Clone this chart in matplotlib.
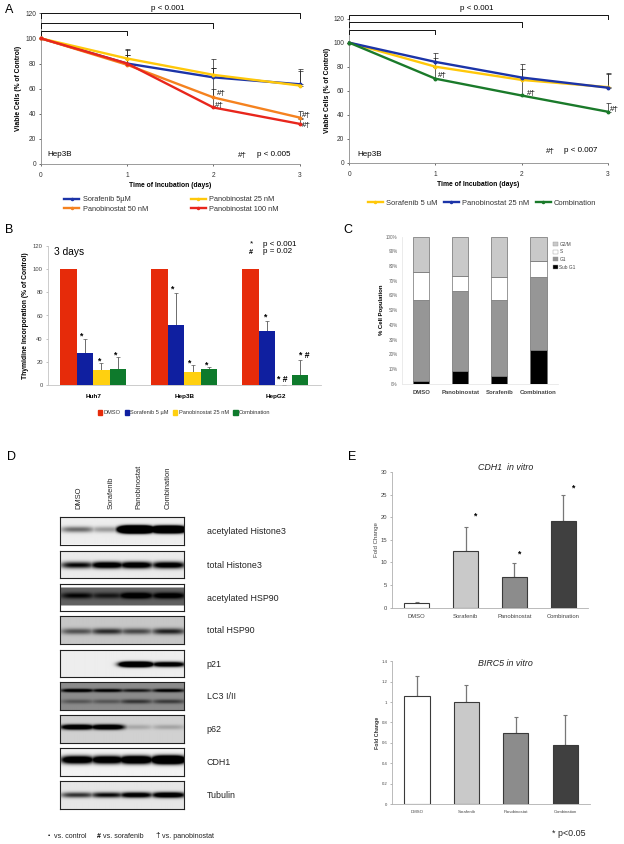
# %%
import matplotlib as mpl
import matplotlib.pyplot as plt
from matplotlib.lines import Line2D
from matplotlib.patches import Patch
import numpy as np

W, H = 624, 844
mpl.rcParams.update({
    'font.family': ['Liberation Sans', 'DejaVu Sans'],
    'axes.linewidth': 0.6,
    'xtick.major.width': 0.5,
    'ytick.major.width': 0.5,
    'xtick.major.size': 1.5,
    'ytick.major.size': 1.5,
    'xtick.major.pad': 2,
    'ytick.major.pad': 2,
})

# %%
# Data

days = [0, 1, 2, 3]

a1_labels = ['Sorafenib 5µM', 'Panobinostat 50 nM', 'Panobinostat 25 nM', 'Panobinostat 100 nM']
a1_sor = [100, 80, 69, 63.5]
a1_p50 = [100, 79, 53, 37]
a1_p25 = [100, 84, 71, 62.5]
a1_p100 = [100, 80, 45, 32]
a1_sor_top = [100, 91.5, 83.5, 75.5]
a1_p50_top = [100, 87, 76.5, 42]
a1_p25_top = [100, 91, 76.5, 74]
a1_p100_top = [100, 87, 60, 36]

a2_labels = ['Sorafenib 5 uM', 'Panobinostat 25 nM', 'Combination']
a2_sor = [100, 80, 69, 63]
a2_pan = [100, 84, 71, 62.5]
a2_com = [100, 70, 56, 42.5]
a2_sor_top = [100, 87, 78, 74]
a2_pan_top = [100, 91.5, 82, 74.5]
a2_com_top = [100, 80, 70, 50]

b_cells = ['Huh7', 'Hep3B', 'HepG2']
b_labels = ['DMSO', 'Sorafenib 5 µM', 'Panobinostat 25 nM', 'Combination']
b_dmso = [100, 100, 100]
b_sor = [27.5, 52, 46.5]
b_pan = [13, 11.5, 0.5]
b_com = [14, 14, 8.5]
b_sor_top = [40, 79, 55.5]
b_pan_top = [19, 17.5, 0.5]
b_com_top = [24.5, 16, 22]

c_groups = ['DMSO', 'Panobinostat', 'Sorafenib', 'Combination']
c_labels = ['G2/M', 'S', 'G1', 'Sub G1']
c_sub = [1.5, 8.5, 5.5, 23]
c_g1 = [55.5, 54.5, 51.5, 49.5]
c_s = [19, 10, 15.5, 11]
c_g2 = [24, 27, 27.5, 16.5]

e_groups = ['DMSO', 'Sorafenib', 'Panobinostat', 'Combination']
cdh1 = [1.1, 12.5, 6.7, 19.2]
cdh1_top = [1.2, 17.8, 9.8, 25]
birc5 = [1.06, 1.0, 0.7, 0.575]
birc5_top = [1.26, 1.17, 0.85, 0.875]

blot_lanes = ['DMSO', 'Sorafenib', 'Panobinostat', 'Combination']
blot_names = ['acetylated Histone3', 'total Histone3', 'acetylated HSP90', 'total HSP90',
              'p21', 'LC3 I/II', 'p62', 'CDH1', 'Tubulin']
# background lightness, then (band row, band thickness, darkness per lane)
blot_bg = [.93, .92, .38, .78, .93, .55, .82, .95, .9]
blot_bands = [
    [(.48, .11, [.55, .35, 5, 4])],
    [(.54, .12, [1.0, 1.4, 1.4, 1.3])],
    [(.45, .11, [1, .8, 1.6, 1.4])],
    [(.55, .11, [.6, .8, .65, .85])],
    [(.55, .09, [0, 0, 2.6, 1.5])],
    [(.30, .06, [1.4, 1.2, .9, 1.2]), (.70, .08, [.4, .4, .65, .6])],
    [(.43, .09, [1.7, 1.7, .2, .22])],
    [(.42, .14, [1.6, 1.6, 1.9, 2.6])],
    [(.50, .10, [.8, 1.0, 1.3, 1.5])],
]
blot_tops = [517, 550.7, 583.7, 616.3, 649.7, 682.3, 715.3, 748.3, 781.3]


# %%
# Everything is placed in picture pixels

def px_axes(left, top, right, bottom):
    return fig.add_axes([left / W, 1 - bottom / H, (right - left) / W, (bottom - top) / H])


def px_text(x, y, s, size=5.8, ha='left', va='center', **kwargs):
    fig.text(x / W, 1 - y / H, s, fontsize=size, ha=ha, va=va, **kwargs)


def clean(ax, color='#8a8a8a'):
    for k, v in ax.spines.items():
        v.set_visible(k in ('left', 'bottom'))
        v.set_color(color)


def line_panel(ax, series, tops, colors):
    for y, top, c in zip(series, tops, colors):
        ax.plot(days, y, color=c, lw=1.7, marker='o', ms=1.8, clip_on=False, zorder=3)
        lo = np.zeros(4)
        up = np.array(top) - np.array(y)
        ax.errorbar(days, y, yerr=[lo, up], fmt='none', ecolor='#222222', elinewidth=.5,
                    capsize=1.8, capthick=.5, clip_on=False, zorder=2)
    ax.set_xlim(0, 3)
    ax.set_ylim(0, 120)
    ax.set_xticks(days)
    ax.set_yticks(range(0, 121, 20))
    ax.tick_params(labelsize=4.8, colors='#333333')
    ax.tick_params(axis='x', pad=4.5)
    clean(ax)
    ax.set_xlabel('Time of Incubation (days)', fontsize=4.9, fontweight='bold', labelpad=2)
    ax.set_ylabel('Viable Cells (% of Control)', fontsize=4.9, fontweight='bold', labelpad=2)


def brackets(ax, levels):
    for end, level in zip([3, 2, 1], levels):
        ax.plot([0, 0, end, end], [level - 3.5, level, level, level - 3.5], color='#111111',
                lw=.7, clip_on=False, zorder=4)


def gray_bars(ax, vals, tops, size, pad):
    colors = ['white', '#c9c9c9', '#8c8c8c', '#404040']
    x = np.arange(4)
    ax.bar(x, vals, .51, color=colors, edgecolor='#3a3a3a', lw=.8, zorder=2)
    ax.errorbar(x, vals, yerr=[np.zeros(4), np.array(tops) - np.array(vals)], fmt='none',
                ecolor='#777777', elinewidth=.9, capsize=1.2, capthick=.8, zorder=1)
    ax.set_xlim(-.5, 3.5)
    ax.set_xticks(x, e_groups)
    ax.tick_params(axis='x', length=0, labelsize=size, pad=pad, colors='#444444')
    ax.tick_params(axis='y', labelsize=size, colors='#444444', color='#999999')
    clean(ax, '#b0b0b0')


def blot_image(bg, bands):
    rows, cols = 56, 248
    yy, xx = np.mgrid[0:1:rows * 1j, 0:1:cols * 1j]
    dark = np.zeros((rows, cols))
    for row, thick, lanes in bands:
        profile = np.zeros(cols)
        for c, d in zip([.14, .38, .61, .87], lanes):
            profile = np.maximum(profile, d * np.exp(-((xx[0] - c) / .135) ** 4))
        dark += profile * np.exp(-((yy - row) / thick) ** 2)
    return bg * (1 - np.clip(dark, 0, 1))


fig = plt.figure(figsize=(W / 100, H / 100), dpi=100)

# %%
# A, left

ax = px_axes(41, 13.3, 299.5, 164)
line_panel(ax, [a1_sor, a1_p25, a1_p50, a1_p100], [a1_sor_top, a1_p25_top, a1_p50_top, a1_p100_top],
           ['#1c34a8', '#ffc80a', '#f5821f', '#e8261c'])
brackets(ax, [120, 112, 106])
px_text(5, 10, 'A', 9)
px_text(168, 9, 'p < 0.001', ha='center')
px_text(47.7, 154, 'Hep3B')
px_text(238, 155, '#†')
px_text(256.7, 155, 'p < 0.005')
for x, y in [(216.7, 94), (215, 105), (301.7, 116), (301.7, 125)]:
    px_text(x, y, '#†')
handles = [Line2D([], [], color=c, lw=1.7, marker='o', ms=1.5)
           for c in ['#1c34a8', '#f5821f', '#ffc80a', '#e8261c']]
fig.legend(handles, a1_labels, ncol=2, loc='center', bbox_to_anchor=(171.5 / W, 1 - 204.5 / H), frameon=False,
           fontsize=5.3, handlelength=2, handletextpad=.5, columnspacing=5.85, labelspacing=.35,
           labelcolor='#333333')

# %%
# A, right

ax = px_axes(349.3, 18.7, 607.7, 162.7)
line_panel(ax, [a2_sor, a2_pan, a2_com], [a2_sor_top, a2_pan_top, a2_com_top],
           ['#ffc80a', '#1c34a8', '#1a7a2a'])
brackets(ax, [123.3, 117, 110.5])
px_text(476.7, 8, 'p < 0.001', ha='center')
px_text(357, 154, 'Hep3B')
px_text(546, 151, '#†')
px_text(564, 151, 'p < 0.007')
for x, y in [(438, 76), (526.7, 93), (610, 110)]:
    px_text(x, y, '#†')
handles = [Line2D([], [], color=c, lw=1.7, marker='o', ms=1.5)
           for c in ['#ffc80a', '#1c34a8', '#1a7a2a']]
fig.legend(handles, a2_labels, ncol=3, loc='center', bbox_to_anchor=(482 / W, 1 - 203 / H), frameon=False,
           fontsize=5.4, handlelength=2, handletextpad=.4, columnspacing=.9, labelcolor='#333333')

# %%
# B

ax = px_axes(47.7, 245.7, 321, 385.3)
x = np.arange(3)
bar_colors = ['#e62b0a', '#0f1fa0', '#ffd010', '#0e7a2c']
bar_w = .181
for i, (vals, c) in enumerate(zip([b_dmso, b_sor, b_pan, b_com], bar_colors)):
    ax.bar(x + (i - 1.5) * bar_w, vals, bar_w, color=c, zorder=2)
for i, (vals, tops) in enumerate(zip([b_sor, b_pan, b_com], [b_sor_top, b_pan_top, b_com_top])):
    ax.errorbar(x + (i - .5) * bar_w, vals, yerr=[np.zeros(3), np.array(tops) - np.array(vals)], fmt='none',
                ecolor='#555555', elinewidth=.6, capsize=1.2, capthick=.5, zorder=1)
ax.set_xlim(-.5, 2.5)
ax.set_ylim(0, 120)
ax.set_xticks(x, b_cells, fontsize=4.6, fontweight='bold')
ax.set_yticks(range(0, 121, 20))
ax.tick_params(axis='y', labelsize=4.2, colors='#444444', color='#aaaaaa')
ax.tick_params(axis='x', length=0, pad=6.5)
clean(ax, '#c4c4c4')
ax.set_ylabel('Thymidine Incorporation (% of Control)', fontsize=4.9, fontweight='bold', labelpad=3)
px_text(5, 230, 'B', 9)
px_text(54, 252, '3 days', 7.3)
px_text(251, 243.5, '*', 6, ha='center')
px_text(262.7, 244, 'p < 0.001')
px_text(251, 252, '#', 5.2, ha='center', fontweight='bold')
px_text(262.7, 251.5, 'p = 0.02')
for sx, sy, s in [(82, 336, '*'), (100, 361, '*'), (116, 355, '*'), (173, 289, '*'), (190, 363, '*'),
                  (207, 365, '*'), (266, 317, '*'), (282, 379, '* #'), (304.5, 355, '* #')]:
    px_text(sx, sy, s, 6.2, ha='center', fontweight='bold')
handles = [Patch(color=c) for c in bar_colors]
fig.legend(handles, b_labels, ncol=4, loc='center', bbox_to_anchor=(184 / W, 1 - 412.5 / H), frameon=False,
           fontsize=4.1, handlelength=.75, handleheight=1, handletextpad=.2, columnspacing=.8,
           labelcolor='#333333')

# %%
# C

ax = px_axes(401.7, 236.7, 558, 383.7)
ax.set_xlim(-.5, 3.5)
ax.set_ylim(0, 100)
x = np.arange(4)
bottom = np.zeros(4)
stack = [(c_sub, 'black'), (c_g1, '#969696'), (c_s, 'white'), (c_g2, '#c9c9c9')]
for vals, c in stack:
    ax.bar(x, vals, .415, bottom=bottom, color=c, edgecolor='#707070', lw=.5, zorder=2)
    bottom += np.array(vals)
ax.set_xticks(x, c_groups, fontsize=4.3, fontweight='bold', color='#444444')
ax.set_yticks(range(0, 101, 10), [f'{v}%' for v in range(0, 101, 10)])
ax.tick_params(axis='y', labelsize=3.3, colors='#666666', length=0, pad=3)
ax.tick_params(axis='x', length=0, pad=4.5)
clean(ax, '#e8e8e8')
ax.set_ylabel('% Cell Population', fontsize=4.3, fontweight='bold', labelpad=1.5)
px_text(343.5, 230, 'C', 9)
handles = [Patch(facecolor=c, edgecolor='#999999', lw=.3) for c in ['#c9c9c9', 'white', '#969696', 'black']]
fig.legend(handles, c_labels, loc='upper left', bbox_to_anchor=(549 / W, 1 - 237.5 / H), frameon=False,
           fontsize=3.4, handlelength=.9, handleheight=.9, handletextpad=.4, labelspacing=.55,
           labelcolor='#444444')

# %%
# D

for top, name, bg, bands in zip(blot_tops, blot_names, blot_bg, blot_bands):
    ax = px_axes(60, top, 184.3, top + 27.5)
    img = blot_image(bg, bands)
    if name == 'acetylated HSP90':
        img[:9] = 1
        img[-11:] = 1
    ax.imshow(img, cmap='gray', vmin=0, vmax=1, aspect='auto', interpolation='bilinear')
    ax.set_xticks([])
    ax.set_yticks([])
    for v in ax.spines.values():
        v.set_linewidth(.8)
        v.set_color('#222222')
    px_text(206.7, top + 14.5, name, 6.4, color='#222222')
for lx, lane in zip([79, 111, 139.3, 168.3], blot_lanes):
    px_text(lx, 509, lane, 5.4, ha='center', va='bottom', rotation=90, color='#222222')
px_text(7, 456.7, 'D', 9)
px_text(48, 836, '•', 4.5)
px_text(53.5, 836, 'vs. control', 5.1, color='#222222')
px_text(97, 836, '#', 5, fontweight='bold')
px_text(103, 836, 'vs. sorafenib', 5.1, color='#222222')
px_text(155.5, 836, '†', 6)
px_text(161.5, 836, 'vs. panobinostat', 5.1, color='#222222')

# %%
# E

ax = px_axes(392.3, 472, 587.5, 607.7)
gray_bars(ax, cdh1, cdh1_top, 4.2, 4.5)
ax.set_ylim(0, 30)
ax.set_yticks(range(0, 31, 5))
ax.set_ylabel('Fold Change', fontsize=4.4, color='#444444', labelpad=1)
px_text(348, 456.7, 'E', 9)
px_text(506, 468, 'CDH1  in vitro', 6.4, ha='center', style='italic', color='#222222')
for sx, sy in [(475.5, 516), (519.5, 554), (574, 488.5)]:
    px_text(sx, sy, '*', 6.2, ha='center', fontweight='bold')

ax = px_axes(392.3, 661.3, 590, 804)
gray_bars(ax, birc5, birc5_top, 3.1, 4)
ax.set_ylim(0, 1.4)
ax.set_yticks([0, .2, .4, .6, .8, 1, 1.2, 1.4], ['0', '0.2', '0.4', '0.6', '0.8', '1', '1.2', '1.4'])
ax.set_ylabel('Fold Change', fontsize=3.8, fontweight='bold', color='#333333', labelpad=1)
px_text(505.7, 664, 'BIRC5 in vitro', 6.4, ha='center', style='italic', color='#222222')
px_text(552, 833, '* p<0.05', 6.4, color='#222222')

fig.savefig('out.png', dpi=100)
